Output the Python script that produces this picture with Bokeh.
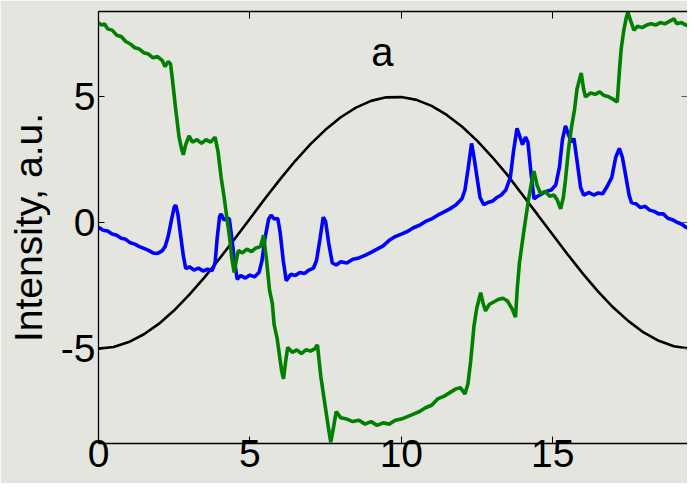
from bokeh.plotting import figure
from bokeh.models import LinearAxis, FixedTicker, Range1d
from bokeh.core.properties import value
from bokeh.embed import file_html
from bokeh.resources import INLINE

# ---------------- data ----------------
x_ticks = [0, 5, 10, 15]
y_ticks = [-5, 0, 5]
y_tick_labels = {-5: "-5", 0: "0", 5: "5"}
title_text = "a"
y_label = "Intensity, a.u."

ref_x = [0.0, 0.5, 1.0, 1.5, 2.0, 2.5, 3.0, 3.5, 4.0, 4.5, 5.0, 5.5, 6.0, 6.5, 7.0,
         7.5, 8.0, 8.5, 9.0, 9.5, 10.0, 10.5, 11.0, 11.5, 12.0, 12.5, 13.0, 13.5,
         14.0, 14.5, 15.0, 15.5, 16.0, 16.5, 17.0, 17.5, 18.0, 18.5, 19.0, 19.5, 19.75]
ref_y = [-5.00, -4.94, -4.74, -4.43, -4.01, -3.48, -2.86, -2.17, -1.42, -0.64, 0.16,
         0.96, 1.73, 2.46, 3.12, 3.70, 4.19, 4.57, 4.84, 4.98, 4.99, 4.88, 4.64, 4.28,
         3.82, 3.26, 2.61, 1.90, 1.11, 0.32, -0.48, -1.27, -2.03, -2.74, -3.37, -3.91,
         -4.36, -4.69, -4.91, -5.00, -4.99]

blue_x = [0.00, 0.15, 0.30, 0.45, 0.60, 0.75, 0.90, 1.05, 1.20, 1.35, 1.50, 1.65, 1.80,
          1.95, 2.10, 2.20, 2.30, 2.40, 2.50, 2.55, 2.62, 2.70, 2.80, 2.88, 3.00, 3.15,
          3.30, 3.45, 3.60, 3.75, 3.85, 3.92, 4.00, 4.05, 4.15, 4.25, 4.32, 4.40, 4.50,
          4.58, 4.70, 4.85, 5.00, 5.15, 5.30, 5.40, 5.50, 5.62, 5.70, 5.80, 5.92, 6.00,
          6.10, 6.20, 6.35, 6.50, 6.65, 6.80, 6.95, 7.10, 7.20, 7.32, 7.42, 7.50, 7.60,
          7.72, 7.85, 8.00, 8.20, 8.40, 8.60, 8.80, 9.00, 9.20, 9.40, 9.60, 9.80, 10.00,
          10.20, 10.40, 10.60, 10.80, 11.00, 11.20, 11.40, 11.60, 11.80, 12.00, 12.10,
          12.20, 12.32, 12.40, 12.50, 12.60, 12.72, 12.85, 13.00, 13.15, 13.30, 13.45,
          13.60, 13.70, 13.82, 13.92, 14.00, 14.10, 14.18, 14.28, 14.38, 14.50, 14.65,
          14.80, 14.95, 15.10, 15.22, 15.32, 15.42, 15.52, 15.62, 15.70, 15.82, 15.92,
          16.02, 16.20, 16.35, 16.50, 16.65, 16.80, 16.95, 17.08, 17.20, 17.30, 17.42,
          17.52, 17.60, 17.75, 17.90, 18.05, 18.20, 18.35, 18.50, 18.65, 18.80, 18.95,
          19.10, 19.25, 19.40, 19.55, 19.75]
blue_y = [-0.18, -0.30, -0.33, -0.45, -0.50, -0.62, -0.66, -0.80, -0.85, -0.95, -1.02,
          -1.10, -1.20, -1.22, -1.12, -0.95, -0.55, 0.05, 0.62, 0.70, 0.35, -0.40, -1.30,
          -1.82, -1.75, -1.88, -1.80, -1.92, -1.85, -1.90, -1.60, -0.60, 0.25, 0.35, 0.10,
          0.20, 0.15, -0.60, -1.60, -2.25, -2.10, -2.20, -2.08, -2.15, -1.98, -1.50, -0.60,
          0.15, 0.30, 0.15, 0.17, -0.40, -1.50, -2.30, -2.05, -2.10, -1.98, -2.02, -1.88,
          -1.80, -1.50, -0.60, 0.22, 0.05, -0.80, -1.60, -1.68, -1.55, -1.60, -1.45, -1.40,
          -1.30, -1.18, -1.05, -0.92, -0.70, -0.55, -0.45, -0.35, -0.20, -0.10, 0.05, 0.15,
          0.30, 0.42, 0.55, 0.70, 0.95, 1.30, 2.10, 3.15, 2.60, 1.80, 1.00, 0.72, 0.80,
          0.85, 1.00, 1.10, 1.30, 1.80, 2.80, 3.75, 3.40, 3.10, 3.40, 3.20, 2.00, 0.95,
          1.05, 1.15, 1.25, 1.30, 1.50, 2.20, 3.30, 3.85, 3.50, 3.20, 3.35, 2.30, 1.40,
          1.10, 1.20, 1.10, 1.18, 1.15, 1.45, 1.80, 2.60, 2.95, 2.60, 1.80, 1.10, 0.80,
          0.75, 0.60, 0.65, 0.50, 0.45, 0.35, 0.35, 0.18, 0.12, 0.02, -0.05, -0.18, -0.25,
          -0.42]

green_x = [0.00, 0.10, 0.20, 0.30, 0.45, 0.60, 0.75, 0.90, 1.05, 1.20, 1.35, 1.50, 1.65,
           1.80, 1.95, 2.10, 2.20, 2.30, 2.38, 2.44, 2.55, 2.66, 2.75, 2.80, 2.88, 2.99,
           3.10, 3.25, 3.40, 3.55, 3.70, 3.85, 3.95, 4.05, 4.15, 4.25, 4.33, 4.40, 4.48,
           4.55, 4.62, 4.75, 4.90, 5.05, 5.20, 5.35, 5.45, 5.55, 5.65, 5.74, 5.80, 5.90,
           5.98, 6.05, 6.11, 6.18, 6.25, 6.40, 6.55, 6.70, 6.85, 7.00, 7.15, 7.23, 7.34,
           7.50, 7.60, 7.67, 7.75, 7.85, 8.00, 8.20, 8.40, 8.60, 8.80, 9.00, 9.20, 9.40,
           9.60, 9.80, 10.00, 10.20, 10.40, 10.60, 10.80, 11.00, 11.20, 11.40, 11.60,
           11.80, 11.95, 12.10, 12.20, 12.29, 12.40, 12.49, 12.62, 12.70, 12.78, 12.90,
           13.05, 13.20, 13.35, 13.50, 13.65, 13.77, 13.83, 13.90, 14.05, 14.21, 14.30,
           14.38, 14.48, 14.60, 14.75, 14.90, 15.04, 15.15, 15.26, 15.35, 15.42, 15.52,
           15.62, 15.72, 15.80, 15.94, 16.02, 16.08, 16.25, 16.40, 16.55, 16.70, 16.85,
           17.00, 17.13, 17.20, 17.26, 17.34, 17.42, 17.48, 17.58, 17.68, 17.80, 17.95,
           18.10, 18.25, 18.40, 18.55, 18.70, 18.85, 19.00, 19.10, 19.25, 19.40, 19.55,
           19.75]
green_y = [7.95, 7.85, 7.90, 7.70, 7.65, 7.45, 7.40, 7.20, 7.10, 6.95, 6.90, 6.75, 6.70,
           6.55, 6.60, 6.45, 6.20, 6.40, 6.30, 5.70, 4.50, 3.40, 2.90, 2.70, 3.10, 3.45,
           3.20, 3.30, 3.15, 3.30, 3.20, 3.40, 2.80, 1.80, 1.00, 0.10, -0.60, -1.40, -1.98,
           -1.50, -1.10, -1.20, -1.05, -1.15, -1.00, -0.95, -0.50, -1.50, -2.70, -3.20,
           -4.05, -4.60, -5.30, -5.90, -6.20, -5.50, -4.95, -5.15, -5.05, -5.20, -5.05,
           -5.10, -5.00, -4.85, -6.10, -7.40, -8.20, -8.72, -8.20, -7.50, -7.75, -7.80,
           -7.90, -7.85, -8.00, -7.90, -8.05, -7.95, -8.00, -7.85, -7.80, -7.70, -7.60,
           -7.50, -7.35, -7.25, -7.00, -6.90, -6.75, -6.60, -6.55, -6.80, -6.40, -5.50,
           -4.10, -3.40, -2.78, -3.20, -3.50, -3.25, -3.15, -3.05, -3.00, -3.10, -3.40,
           -3.75, -2.60, -1.60, -0.30, 1.00, 1.60, 2.05, 1.50, 1.15, 1.25, 1.05, 1.10,
           0.90, 0.55, 1.00, 1.70, 2.90, 3.80, 4.50, 5.30, 5.95, 5.30, 5.00, 5.15, 5.10,
           5.20, 5.05, 5.00, 4.90, 4.80, 6.00, 6.90, 7.60, 8.10, 8.36, 8.00, 7.65, 7.80,
           7.75, 7.85, 7.90, 7.85, 7.95, 7.90, 8.00, 8.10, 7.90, 7.95, 7.85, 7.80, 7.78]

# ---------------- styling ----------------
BG = "#e4e5de"
FONT = "Liberation Sans"
FS = "39px"

p = figure(width=687, height=483, output_backend="svg", toolbar_location=None,
           x_range=Range1d(0, 19.45), y_range=Range1d(-8.77, 8.39),
           min_border_left=98, min_border_right=0, min_border_top=11,
           min_border_bottom=40, background_fill_color=BG, border_fill_color=BG,
           outline_line_color=None)
p.grid.visible = False

xb = p.xaxis[0]
xb.ticker = FixedTicker(ticks=x_ticks)
xb.major_tick_in = 7
xb.major_tick_out = 0
xb.minor_tick_line_color = None
xb.major_label_text_font = FONT
xb.major_label_text_font_size = FS
xb.major_label_text_color = "black"
xb.major_label_standoff = -4
xb.axis_line_color = "black"
xb.axis_line_width = 1.3
xb.major_tick_line_color = "black"

yl = p.yaxis[0]
yl.ticker = FixedTicker(ticks=y_ticks)
yl.major_label_overrides = y_tick_labels
yl.major_tick_in = 6
yl.major_tick_out = 0
yl.minor_tick_line_color = None
yl.major_label_text_font = FONT
yl.major_label_text_font_size = FS
yl.major_label_text_color = "black"
yl.major_label_standoff = 3
yl.axis_line_color = "black"
yl.axis_line_width = 1.3
yl.major_tick_line_color = "black"
yl.axis_label = y_label
yl.axis_label_text_font = FONT
yl.axis_label_text_font_size = FS
yl.axis_label_text_font_style = "normal"
yl.axis_label_text_color = "black"
yl.axis_label_standoff = 8

top = LinearAxis(ticker=FixedTicker(ticks=x_ticks), major_tick_in=7, major_tick_out=0,
                 minor_tick_line_color=None, major_label_text_font_size="1px",
                 major_label_text_color=None, major_label_standoff=0,
                 axis_line_color="black", axis_line_width=1.3)
p.add_layout(top, "above")
right = LinearAxis(ticker=FixedTicker(ticks=y_ticks), major_tick_in=6, major_tick_out=0,
                   minor_tick_line_color=None, major_label_text_font_size="1px",
                   major_label_text_color=None, major_label_standoff=0,
                   axis_line_color=None, major_tick_line_color="#555555")
p.add_layout(right, "right")

p.line(ref_x, ref_y, line_color="black", line_width=2.6)
p.line(blue_x, blue_y, line_color="#0000ff", line_width=3.6)
p.line(green_x, green_y, line_color="#008000", line_width=3.6)

p.text(x=[9.37], y=[6.80], text=[title_text], text_font=value(FONT),
       text_font_size="40px", text_align="center", text_baseline="middle",
       text_color="black")

open("out.html", "w").write(file_html(p, INLINE))
